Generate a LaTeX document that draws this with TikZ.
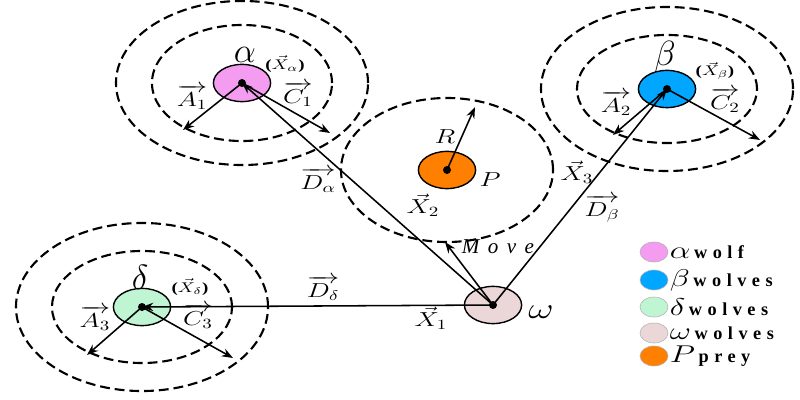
\documentclass[tikz,border=0pt]{standalone}
\usepackage{fontspec}
\usepackage{amsmath}
\setmainfont{Liberation Serif}
\newfontfamily\legendfont[LetterSpace=30]{Liberation Serif}
\newfontfamily\movefont[LetterSpace=40]{Liberation Serif}
\usetikzlibrary{arrows.meta,shapes.geometric}
\definecolor{alphapink}{HTML}{F49CF0}
\definecolor{betablue}{HTML}{00A6FF}
\definecolor{deltagreen}{HTML}{BFF5D2}
\definecolor{omegarose}{HTML}{EBD7D7}
\definecolor{preyorange}{HTML}{FF8000}
\newcommand{\stretchx}[1]{\scalebox{1.35}[1]{#1}}
\tikzset{
    wolf/.style =   {ellipse,
                    draw=black,
                    line width=1pt,
                    minimum width=1.43cm,
                    minimum height=0.93cm,
                    inner sep=0pt},
    key/.style =    {ellipse,
                    draw=black!30,
                    thin,
                    minimum width=0.7cm,
                    minimum height=0.5cm,
                    inner sep=0pt},
    dot/.style =    {circle,
                    fill=black,
                    inner sep=0pt,
                    minimum size=0.2cm},
    ring/.style =   {draw=black,
                    dash pattern=on 7pt off 3.5pt,
                    line width=1.5pt},
    vec/.style =    {line width=1.1pt,
                    ->},
    lbl/.style =    {inner sep=1pt,
                    font=\Large},
    keytext/.style ={anchor=west,
                    inner sep=1pt},
    >={Stealth[length=8pt,width=6pt]}}

\begin{document}
\begin{tikzpicture}[x=0.025cm,y=-0.025cm]
    \useasboundingbox (0,0) rectangle (800,400);
    % wolves and prey
    \node[wolf, fill=alphapink]   (alpha) at (242,83)  {};
    \node[wolf, fill=betablue]    (beta)  at (667,89)  {};
    \node[wolf, fill=deltagreen]  (delta) at (142,307) {};
    \node[wolf, fill=omegarose]   (omega) at (493,305) {};
    \node[wolf, fill=preyorange]  (prey)  at (447,170) {};
    % search rings
    \draw[ring] (alpha.center) ellipse [x radius=3.15cm, y radius=2.05cm];
    \draw[ring] (alpha.center) ellipse [x radius=2.25cm, y radius=1.45cm];
    \draw[ring] (beta.center)  ellipse [x radius=3.15cm, y radius=2.05cm];
    \draw[ring] (beta.center)  ellipse [x radius=2.25cm, y radius=1.35cm];
    \draw[ring] (delta.center) ellipse [x radius=3.15cm, y radius=2.1cm];
    \draw[ring] (delta.center) ellipse [x radius=2.25cm, y radius=1.4cm];
    \draw[ring] (prey.center)  ellipse [x radius=2.65cm, y radius=1.8cm];
    % free ends
    \coordinate (a1) at (183,130);
    \coordinate (c1) at (330,133);
    \coordinate (a2) at (613,135);
    \coordinate (c2) at (760,140);
    \coordinate (a3) at (87,355);
    \coordinate (c3) at (233,358);
    \coordinate (r)  at (475,107);
    \coordinate (mv) at (445,242);
    \path [vec] (alpha.center) edge (a1)
                (alpha.center) edge (c1)
                (beta.center)  edge (a2)
                (beta.center)  edge (c2)
                (delta.center) edge (a3)
                (delta.center) edge (c3)
                (prey.center)  edge (r)
                (omega.center) edge (mv)
                (omega.center) edge (delta.center)
                (omega.center) edge (alpha.center)
                (omega.center) edge (beta.center);
    \node[dot] (alphadot) at (alpha.center) {};
    \node[dot] (betadot)  at (beta.center)  {};
    \node[dot] (deltadot) at (delta.center) {};
    \node[dot] (omegadot) at (omega.center) {};
    \node[dot] (preydot)  at (prey.center)  {};
    % labels
    \node[lbl, font=\Huge]  (lalpha) at (245,55)  {$\alpha$};
    \node[lbl, font=\Huge]  (lbeta)  at (665,57)  {$\beta$};
    \node[lbl, font=\Huge]  (ldelta) at (140,277) {$\delta$};
    \node[lbl, font=\huge]  (lomega) at (541,312) {\stretchx{$\omega$}};
    \node[lbl]              (lprey)  at (490,180) {\stretchx{$P$}};
    \node[lbl]              (lr)     at (445,137) {\stretchx{$R$}};
    \node[lbl, font=\normalsize] (xa) at (285,64)  {\stretchx{\textbf{(}$\vec{X}_\alpha$\textbf{)}}};
    \node[lbl, font=\normalsize] (xb) at (715,71)  {\stretchx{\textbf{(}$\vec{X}_\beta$\textbf{)}}};
    \node[lbl, font=\normalsize] (xd) at (190,287) {\stretchx{\textbf{(}$\vec{X}_\delta$\textbf{)}}};
    \node[lbl] (la1) at (192,97)  {\stretchx{$\overrightarrow{A_1}$}};
    \node[lbl] (lc1) at (298,94)  {\stretchx{$\overrightarrow{C_1}$}};
    \node[lbl] (la2) at (616,103) {\stretchx{$\overrightarrow{A_2}$}};
    \node[lbl] (lc2) at (725,100) {\stretchx{$\overrightarrow{C_2}$}};
    \node[lbl] (la3) at (95,318)  {\stretchx{$\overrightarrow{A_3}$}};
    \node[lbl] (lc3) at (198,316) {\stretchx{$\overrightarrow{C_3}$}};
    \node[lbl] (lda) at (318,180) {\stretchx{$\overrightarrow{D_\alpha}$}};
    \node[lbl] (ldb) at (602,209) {\stretchx{$\overrightarrow{D_\beta}$}};
    \node[lbl] (ldd) at (323,288) {\stretchx{$\overrightarrow{D_\delta}$}};
    \node[lbl] (lx1) at (431,318) {\stretchx{$\vec{X}_1$}};
    \node[lbl] (lx2) at (423,205) {\stretchx{$\vec{X}_2$}};
    \node[lbl] (lx3) at (577,172) {\stretchx{$\vec{X}_3$}};
    \node[lbl] (lmove) at (498,247) {\movefont\itshape\fontsize{15}{17}\selectfont Move};
    % legend
    \node[key, fill=alphapink]  (kalpha) at (654,252) {};
    \node[key, fill=betablue]   (kbeta)  at (654,280) {};
    \node[key, fill=deltagreen] (kdelta) at (654,307) {};
    \node[key, fill=omegarose]  (komega) at (654,333) {};
    \node[key, fill=preyorange] (kprey)  at (654,356) {};
    \node[keytext] at (kalpha.east) {\stretchx{\LARGE$\alpha$} {\legendfont\bfseries\fontsize{13}{15}\selectfont wolf}};
    \node[keytext] at (kbeta.east)  {\stretchx{\LARGE$\beta$} {\legendfont\bfseries\fontsize{13}{15}\selectfont wolves}};
    \node[keytext] at (kdelta.east) {\stretchx{\LARGE$\delta$} {\legendfont\bfseries\fontsize{13}{15}\selectfont wolves}};
    \node[keytext] at (komega.east) {\stretchx{\LARGE$\omega$} {\legendfont\bfseries\fontsize{13}{15}\selectfont wolves}};
    \node[keytext] at (kprey.east)  {\stretchx{\LARGE$P$} {\legendfont\bfseries\fontsize{13}{15}\selectfont prey}};
\end{tikzpicture}
\end{document}
